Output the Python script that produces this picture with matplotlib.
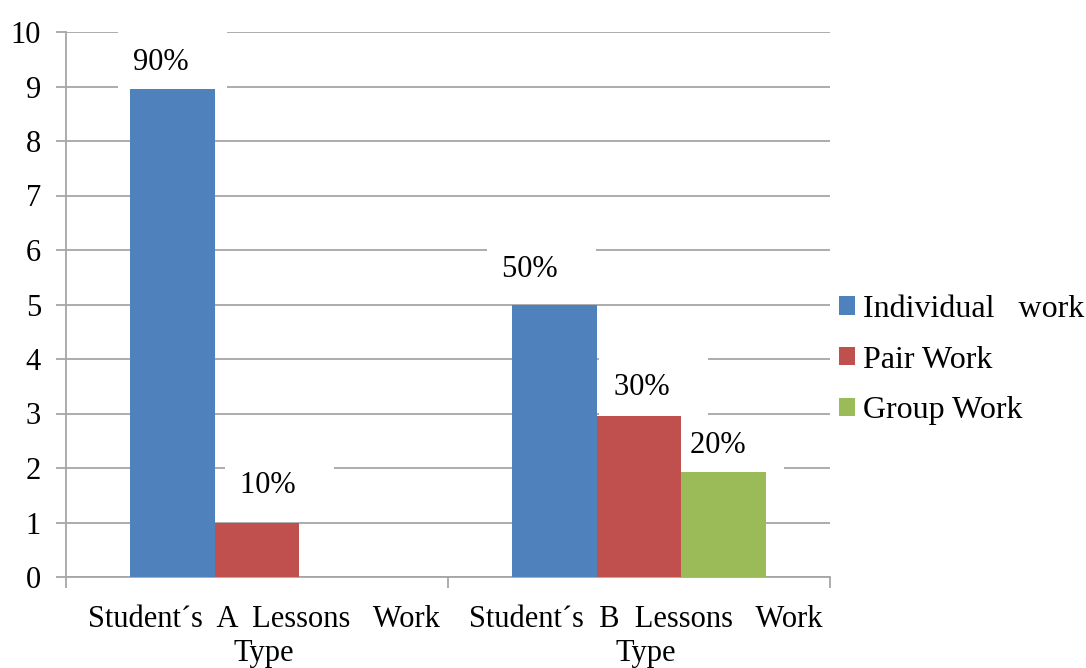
import numpy as np
import matplotlib.pyplot as plt
from matplotlib.transforms import ScaledTranslation

plt.rcParams['font.family'] = ['Liberation Serif', 'DejaVu Serif']

# data
categories = ["Student´s  A  Lessons   Work\nType", "Student´s  B  Lessons   Work\nType"]
series = ["Individual   work", "Pair Work", "Group Work"]
individual = [8.95, 5.0]
pair = [1.0, 2.95]
group = [0.0, 1.92]
labels = [["90%", "50%"], ["10%", "30%"], [None, "20%"]]
colors = ['#4F81BD', '#C0504D', '#9BBB59']

# label nudges (pixels) so they sit where the original put them
label_dx = [[-11, -24], [11, 3], [0, -6]]
label_dy = [[27, 35], [37, 29], [0, 27]]

fig = plt.figure(figsize=(10.86, 6.68), dpi=100)
ax = fig.add_axes([66/1086, 1 - 577/668, (830 - 66)/1086, (577 - 32)/668])

x = np.arange(len(categories)) + 0.5
w = 0.2225
values = [individual, pair, group]
for i, vals in enumerate(values):
    pos = x + (i - 1) * w
    ax.bar(pos, vals, width=w, color=colors[i], label=series[i], zorder=5)
    for j, (p, v, lab) in enumerate(zip(pos, vals, labels[i])):
        if lab is None:
            continue
        # trailing spaces push the white box a little right of the text, like the original
        ax.annotate(lab + "   ", (p, v),
                    xytext=((label_dx[i][j] + 11.5) * 0.72, label_dy[i][j] * 0.72),
                    textcoords='offset points', ha='center', va='center',
                    fontsize=22, zorder=4,
                    bbox=dict(facecolor='white', edgecolor='none', pad=11))

ax.set_xlim(0, 2)
ax.set_ylim(0, 10)
ax.set_yticks(range(0, 11))
ax.yaxis.grid(True, color='#a6a6a6', linewidth=1.3, zorder=0)
ax.set_axisbelow(True)

ax.set_xticks(x)
ax.set_xticklabels(categories, fontsize=22, linespacing=1.25)
ax.set_xticks([0, 1, 2], minor=True)
ax.tick_params(axis='x', which='major', length=0, pad=20)
ax.tick_params(axis='x', which='minor', length=8, color='#a6a6a6', width=1.3, direction='out')
ax.tick_params(axis='y', length=7, color='#a6a6a6', width=1.3, labelsize=22, pad=11)
for t in ax.get_xticklabels():
    t.set_transform(t.get_transform() + ScaledTranslation(7/100, 0, fig.dpi_scale_trans))

for s in ['top', 'right']:
    ax.spines[s].set_visible(False)
for s in ['left', 'bottom']:
    ax.spines[s].set_color('#a6a6a6')
    ax.spines[s].set_linewidth(1.3)

ax.legend(loc='center left', bbox_to_anchor=(839/1086, 1 - 360/668),
          bbox_transform=fig.transFigure, frameon=False, fontsize=23,
          handlelength=0.5, handleheight=0.5, handletextpad=0.25,
          labelspacing=0.68, borderaxespad=0, borderpad=0)

plt.savefig('out.png', dpi=100)
